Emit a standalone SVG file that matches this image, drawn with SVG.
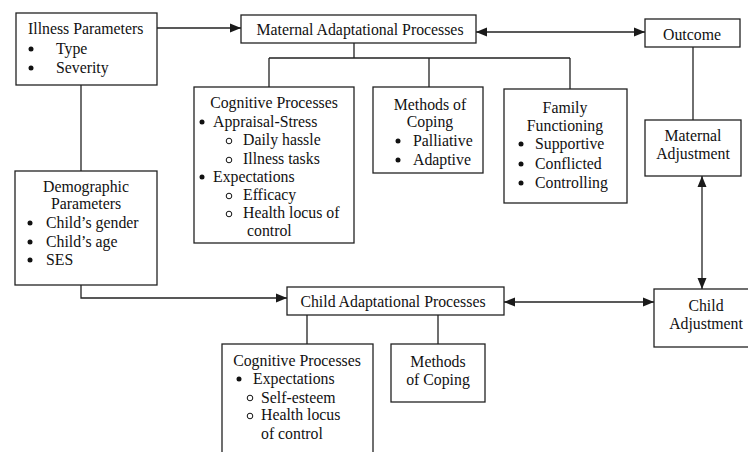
<svg xmlns="http://www.w3.org/2000/svg" width="748" height="452" viewBox="0 0 748 452">
<defs>
<marker id="ah" viewBox="0 0 11 10" refX="11" refY="5" markerWidth="11" markerHeight="10" markerUnits="userSpaceOnUse" orient="auto-start-reverse">
<path d="M0,0.5 L11,5 L0,9.5 Z" fill="#1a1a1a"/>
</marker>
<style>
.box{fill:#fff;stroke:#222;stroke-width:1.3}
.ln{fill:none;stroke:#222;stroke-width:1.3}
text{font-family:"Liberation Serif","Times New Roman",serif;font-size:15.8px;fill:#111}
.c{text-anchor:middle}
.b{fill:#111}
.o{fill:none;stroke:#111;stroke-width:1}
</style>
</defs>
<rect width="748" height="452" fill="#fff"/>
<g id="connectors">
<path class="ln" d="M157 28 H241" marker-end="url(#ah)"/>
<path class="ln" d="M476 32 H645" marker-start="url(#ah)" marker-end="url(#ah)"/>
<path class="ln" d="M354 43 V58 M269 58 H570 M269 58 V87 M429 58 V87 M570 58 V89"/>
<path class="ln" d="M693 47 V120"/>
<path class="ln" d="M702 176 V289" marker-start="url(#ah)" marker-end="url(#ah)"/>
<path class="ln" d="M81 85 V171"/>
<path class="ln" d="M81 285 V298 H287" marker-end="url(#ah)"/>
<path class="ln" d="M504 302 H654" marker-start="url(#ah)" marker-end="url(#ah)"/>
<path class="ln" d="M307 315 V344 M438 315 V344"/>
</g>
<g id="illness">
<rect class="box" x="16" y="13" width="141" height="72"/>
<text x="28" y="34">Illness Parameters</text>
<circle class="b" cx="31" cy="49" r="2.5"/><text x="56" y="54">Type</text>
<circle class="b" cx="31" cy="68" r="2.5"/><text x="56" y="73">Severity</text>
</g>
<g id="maternal-adaptational">
<rect class="box" x="241" y="15" width="235" height="28"/>
<text class="c" x="360" y="35">Maternal Adaptational Processes</text>
</g>
<g id="outcome">
<rect class="box" x="645" y="19" width="95" height="28"/>
<text class="c" x="692" y="40">Outcome</text>
</g>
<g id="maternal-adjustment">
<rect class="box" x="645" y="120" width="96" height="56"/>
<text class="c" x="693" y="141">Maternal</text>
<text class="c" x="693" y="159">Adjustment</text>
</g>
<g id="maternal-cognitive">
<rect class="box" x="194" y="87" width="160" height="156"/>
<text class="c" x="274" y="108">Cognitive Processes</text>
<circle class="b" cx="202" cy="122" r="2.5"/><text x="213" y="127">Appraisal-Stress</text>
<circle class="o" cx="229" cy="141" r="2.8"/><text x="243" y="145">Daily hassle</text>
<circle class="o" cx="229" cy="160" r="2.8"/><text x="243" y="164">Illness tasks</text>
<circle class="b" cx="202" cy="177" r="2.5"/><text x="213" y="182">Expectations</text>
<circle class="o" cx="229" cy="196" r="2.8"/><text x="243" y="200">Efficacy</text>
<circle class="o" cx="229" cy="214" r="2.8"/><text x="243" y="218">Health locus of</text>
<text x="247" y="236">control</text>
</g>
<g id="maternal-coping">
<rect class="box" x="373" y="87" width="110" height="86"/>
<text class="c" x="430" y="110">Methods of</text>
<text class="c" x="430" y="127">Coping</text>
<circle class="b" cx="398" cy="141" r="2.5"/><text x="413" y="146">Palliative</text>
<circle class="b" cx="398" cy="160" r="2.5"/><text x="413" y="165">Adaptive</text>
</g>
<g id="family-functioning">
<rect class="box" x="504" y="89" width="123" height="114"/>
<text class="c" x="565" y="113">Family</text>
<text class="c" x="565" y="131">Functioning</text>
<circle class="b" cx="521" cy="144" r="2.5"/><text x="535" y="149">Supportive</text>
<circle class="b" cx="521" cy="164" r="2.5"/><text x="535" y="169">Conflicted</text>
<circle class="b" cx="521" cy="183" r="2.5"/><text x="535" y="188">Controlling</text>
</g>
<g id="demographic">
<rect class="box" x="15" y="171" width="142" height="114"/>
<text class="c" x="86" y="192">Demographic</text>
<text class="c" x="86" y="209">Parameters</text>
<circle class="b" cx="30" cy="223" r="2.5"/><text x="46" y="228">Child’s gender</text>
<circle class="b" cx="30" cy="242" r="2.5"/><text x="46" y="247">Child’s age</text>
<circle class="b" cx="30" cy="260" r="2.5"/><text x="46" y="265">SES</text>
</g>
<g id="child-adaptational">
<rect class="box" x="287" y="287" width="217" height="28"/>
<text class="c" x="393" y="307">Child Adaptational Processes</text>
</g>
<g id="child-adjustment">
<rect class="box" x="654" y="289" width="100" height="58"/>
<text class="c" x="706" y="311">Child</text>
<text class="c" x="706" y="329">Adjustment</text>
</g>
<g id="child-cognitive">
<rect class="box" x="222" y="344" width="151" height="120"/>
<text class="c" x="297" y="366">Cognitive Processes</text>
<circle class="b" cx="239" cy="379" r="2.5"/><text x="253" y="384">Expectations</text>
<circle class="o" cx="250" cy="398" r="2.8"/><text x="261" y="403">Self-esteem</text>
<circle class="o" cx="250" cy="416" r="2.8"/><text x="261" y="420">Health locus</text>
<text x="261" y="439">of control</text>
</g>
<g id="child-coping">
<rect class="box" x="391" y="344" width="94" height="58"/>
<text class="c" x="438" y="367">Methods</text>
<text class="c" x="438" y="385">of Coping</text>
</g>
</svg>
